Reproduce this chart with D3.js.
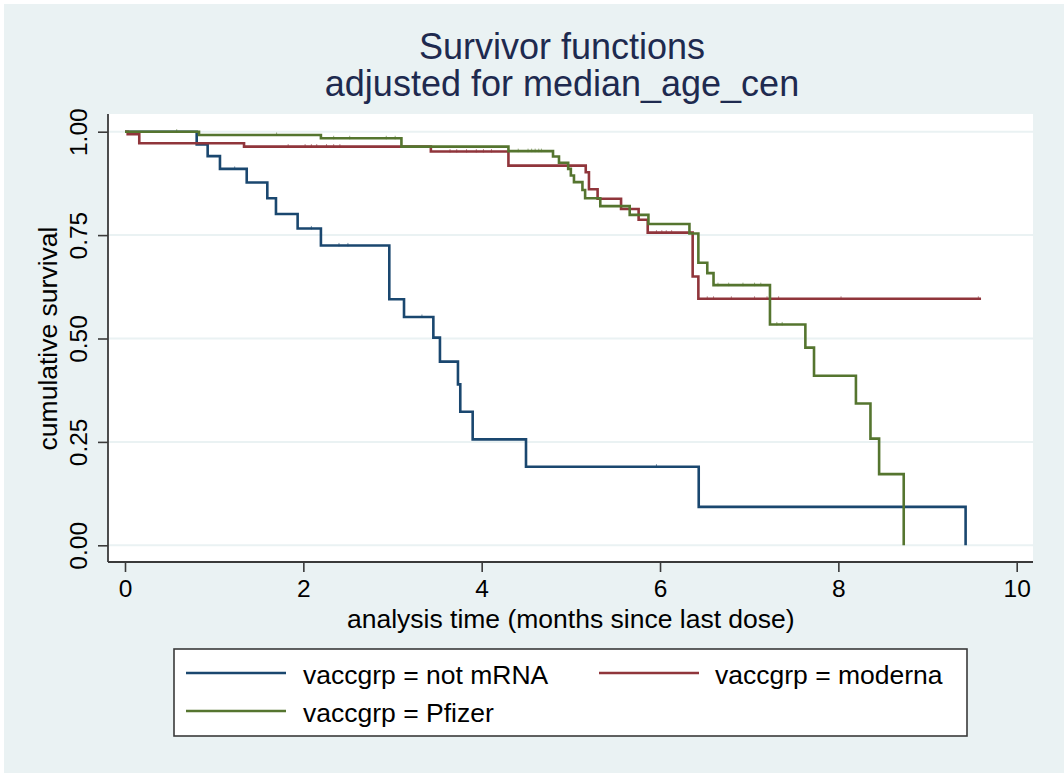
<html>
<head>
<script src="https://d3js.org/d3.v7.min.js"></script>
<style>
  body { margin: 0; background: #fff; }
  text { font-family: "Liberation Sans", Arial, sans-serif; }
</style>
</head>
<body>
<div id="chart"></div>
<script>
// ---- data ----
var groups = ["vaccgrp = not mRNA", "vaccgrp = moderna", "vaccgrp = Pfizer"];
var colors = ["#1a476f", "#90353b", "#55752f"];

var notmrnaTime = [0, 0.804, 0.927, 1.065, 1.365, 1.596, 1.693, 1.936, 2.197, 2.964, 3.129, 3.458, 3.532, 3.734, 3.760, 3.899, 4.497, 6.434, 9.427];
var notmrnaSurv = [1, 0.969, 0.941, 0.910, 0.877, 0.839, 0.801, 0.766, 0.725, 0.595, 0.552, 0.502, 0.444, 0.389, 0.323, 0.256, 0.190, 0.093, 0];
var notmrnaCens = [1.23, 2.09, 2.40, 2.50, 3.33, 5.96];

var modernaTime = [0, 0.03, 0.16, 1.335, 3.43, 4.30, 5.167, 5.203, 5.30, 5.563, 5.76, 5.862, 6.366, 6.43, 9.60];
var modernaSurv = [1, 0.994, 0.972, 0.964, 0.952, 0.918, 0.902, 0.861, 0.838, 0.813, 0.787, 0.756, 0.650, 0.596, 0.596];
var modernaCens = [1.83, 2.02, 2.09, 2.15, 2.26, 2.34, 2.41, 3.645, 3.72, 3.83, 3.94, 4.02, 4.11, 5.96, 6.02, 6.07, 6.13, 6.53, 6.60, 6.80, 7.06, 7.20, 7.33, 8.03, 9.57];

var pfizerTime = [0, 0.83, 2.197, 3.10, 4.30, 4.80, 4.867, 4.97, 5.0, 5.035, 5.13, 5.16, 5.33, 5.66, 5.87, 6.33, 6.43, 6.53, 6.60, 7.233, 7.63, 7.727, 8.197, 8.36, 8.457, 8.733];
var pfizerSurv = [1, 0.992, 0.984, 0.964, 0.953, 0.940, 0.925, 0.910, 0.894, 0.878, 0.859, 0.839, 0.820, 0.799, 0.777, 0.754, 0.683, 0.658, 0.629, 0.534, 0.478, 0.410, 0.343, 0.258, 0.172, 0];
var pfizerCens = [0.58, 1.70, 2.34, 2.52, 2.93, 3.03, 4.41, 4.52, 4.56, 4.60, 4.64, 4.67, 6.65, 6.77, 6.93, 7.06, 7.13, 7.31, 7.37];

var xTicks = [0, 2, 4, 6, 8, 10];
var yTicks = [0, 0.25, 0.5, 0.75, 1];

var width = 1064, height = 773;

var svg = d3.select("#chart").append("svg")
    .attr("width", width)
    .attr("height", height);

// outer background
svg.append("rect").attr("x", 4).attr("y", 4)
    .attr("width", width - 4).attr("height", height - 4)
    .attr("fill", "#eaf2f3");

// plot region
var plot = { left: 108, right: 1033, top: 114, bottom: 562 };
svg.append("rect")
    .attr("x", plot.left).attr("y", plot.top)
    .attr("width", plot.right - plot.left).attr("height", plot.bottom - plot.top)
    .attr("fill", "#fff");

var xScale = d3.scaleLinear().domain([0, 10]).range([125, 1016.7]);
var yScale = d3.scaleLinear().domain([0, 1]).range([545.3, 131.7]);

// gridlines
svg.append("g").selectAll("line")
    .data(yTicks).enter().append("line")
    .attr("x1", plot.left).attr("x2", plot.right)
    .attr("y1", d => yScale(d)).attr("y2", d => yScale(d))
    .attr("stroke", "#eaf2f3").attr("stroke-width", 2);

// y axis
var yAxis = d3.axisLeft(yScale).tickValues(yTicks).tickFormat(d3.format(".2f"))
    .tickSize(10).tickPadding(11);
var gy = svg.append("g").attr("transform", `translate(${plot.left},0)`).call(yAxis);
gy.select(".domain").remove();
gy.selectAll(".tick line").attr("stroke", "#3a3a3a").attr("stroke-width", 1.6);
gy.selectAll(".tick text")
    .attr("font-size", 24.5).attr("fill", "#000")
    .attr("x", 0).attr("dy", null)
    .attr("text-anchor", "middle")
    .attr("transform", "translate(-21,0) rotate(-90)");
svg.append("line")
    .attr("x1", plot.left).attr("x2", plot.left)
    .attr("y1", plot.top).attr("y2", plot.bottom)
    .attr("stroke", "#3a3a3a").attr("stroke-width", 1.8);

// x axis
var xAxis = d3.axisBottom(xScale).tickValues(xTicks).tickFormat(d3.format("d"))
    .tickSize(10).tickPadding(8);
var gx = svg.append("g").attr("transform", `translate(0,${plot.bottom})`).call(xAxis);
gx.select(".domain").remove();
gx.selectAll(".tick line").attr("stroke", "#3a3a3a").attr("stroke-width", 1.6);
gx.selectAll(".tick text").attr("font-size", 24.5).attr("fill", "#000");
svg.append("line")
    .attr("x1", plot.left).attr("x2", plot.right)
    .attr("y1", plot.bottom).attr("y2", plot.bottom)
    .attr("stroke", "#3a3a3a").attr("stroke-width", 1.8);

// axis titles
svg.append("text")
    .attr("x", 570.8).attr("y", 628)
    .attr("text-anchor", "middle").attr("font-size", 26.5)
    .text("analysis time (months since last dose)");
svg.append("text")
    .attr("transform", "translate(57,338.5) rotate(-90)")
    .attr("text-anchor", "middle").attr("font-size", 26.5)
    .text("cumulative survival");

// title
svg.append("text").attr("x", 562).attr("y", 59)
    .attr("text-anchor", "middle").attr("font-size", 36).attr("fill", "#1e2a4f")
    .text("Survivor functions");
svg.append("text").attr("x", 562).attr("y", 96)
    .attr("text-anchor", "middle").attr("font-size", 36).attr("fill", "#1e2a4f")
    .text("adjusted for median_age_cen");

// curves
var series = [
    { t: notmrnaTime, s: notmrnaSurv, c: notmrnaCens },
    { t: modernaTime, s: modernaSurv, c: modernaCens },
    { t: pfizerTime, s: pfizerSurv, c: pfizerCens }
];

var line = d3.line()
    .x(d => xScale(d[0]))
    .y(d => yScale(d[1]))
    .curve(d3.curveStepAfter);

function survAt(sr, time) {
    var i = d3.bisectRight(sr.t, time) - 1;
    return sr.s[Math.max(0, i)];
}

series.forEach(function (sr, k) {
    var pts = sr.t.map((d, i) => [d, sr.s[i]]);
    svg.append("path")
        .datum(pts)
        .attr("d", line)
        .attr("fill", "none")
        .attr("stroke", colors[k])
        .attr("stroke-width", 2.6);
    // censoring marks, tiny notches on the line
    svg.append("g").selectAll("line")
        .data(sr.c).enter().append("line")
        .attr("x1", d => xScale(d)).attr("x2", d => xScale(d))
        .attr("y1", d => yScale(survAt(sr, d)) + 1)
        .attr("y2", d => yScale(survAt(sr, d)) - 2.5)
        .attr("stroke", colors[k]).attr("stroke-width", 1)
        .attr("opacity", 0.6);
});

// legend
var legend = svg.append("g");
legend.append("rect")
    .attr("x", 174).attr("y", 649).attr("width", 793).attr("height", 87)
    .attr("fill", "#fff").attr("stroke", "#3a3a3a").attr("stroke-width", 1.6);
var legPos = [
    { lx: 186, tx: 303, y: 673 },
    { lx: 599, tx: 715, y: 673 },
    { lx: 186, tx: 303, y: 711 }
];
groups.forEach(function (g, k) {
    var p = legPos[k];
    legend.append("line")
        .attr("x1", p.lx).attr("x2", p.lx + 100)
        .attr("y1", p.y).attr("y2", p.y)
        .attr("stroke", colors[k]).attr("stroke-width", 2.6);
    legend.append("text")
        .attr("x", p.tx).attr("y", p.y + 11)
        .attr("font-size", 26.5).attr("fill", "#000")
        .text(g);
});
</script>
</body>
</html>
